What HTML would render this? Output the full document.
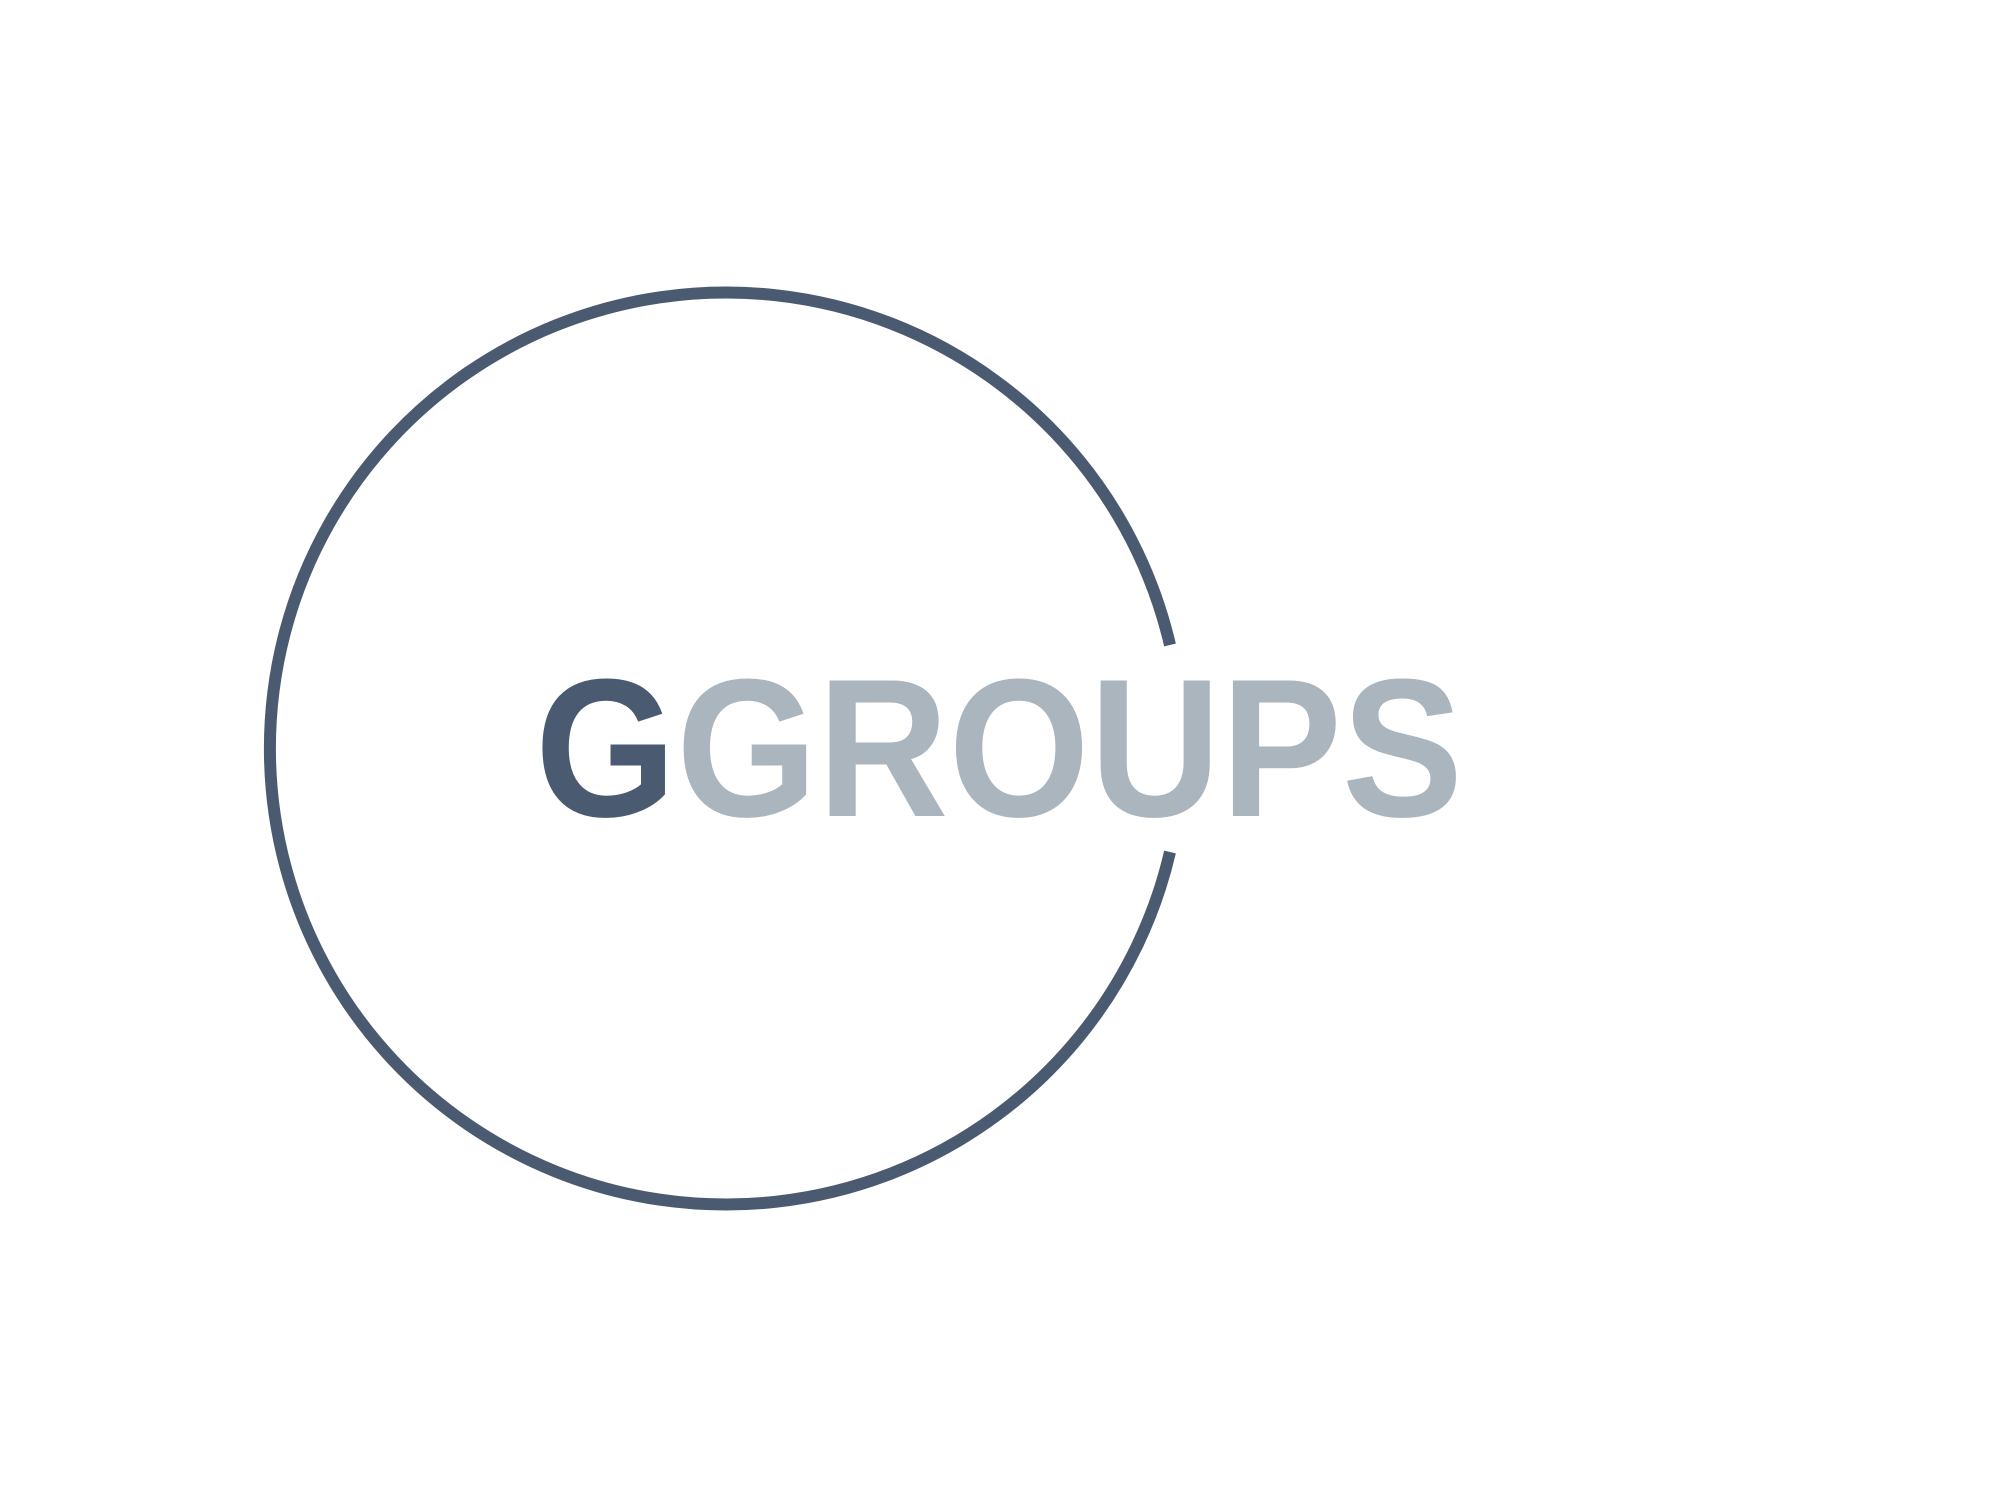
<!DOCTYPE html>
<html>
<head>
<meta charset="utf-8">
<style>
  html, body { margin: 0; padding: 0; background: #ffffff; }
  svg { display: block; }
</style>
</head>
<body>
<svg width="2000" height="1500" viewBox="0 0 2000 1500" xmlns="http://www.w3.org/2000/svg">
  <rect x="0" y="0" width="2000" height="1500" fill="#ffffff"/>
  <path d="M 1170 645 A 456 456 0 1 0 1170 852" fill="none" stroke="#4a5a70" stroke-width="12"/>
  <text x="535" y="816" font-family="'Liberation Sans', sans-serif" font-weight="bold" font-size="197" textLength="928" lengthAdjust="spacingAndGlyphs"><tspan fill="#4a5a70">G</tspan><tspan fill="#aab5be">GROUPS</tspan></text>
</svg>
</body>
</html>
